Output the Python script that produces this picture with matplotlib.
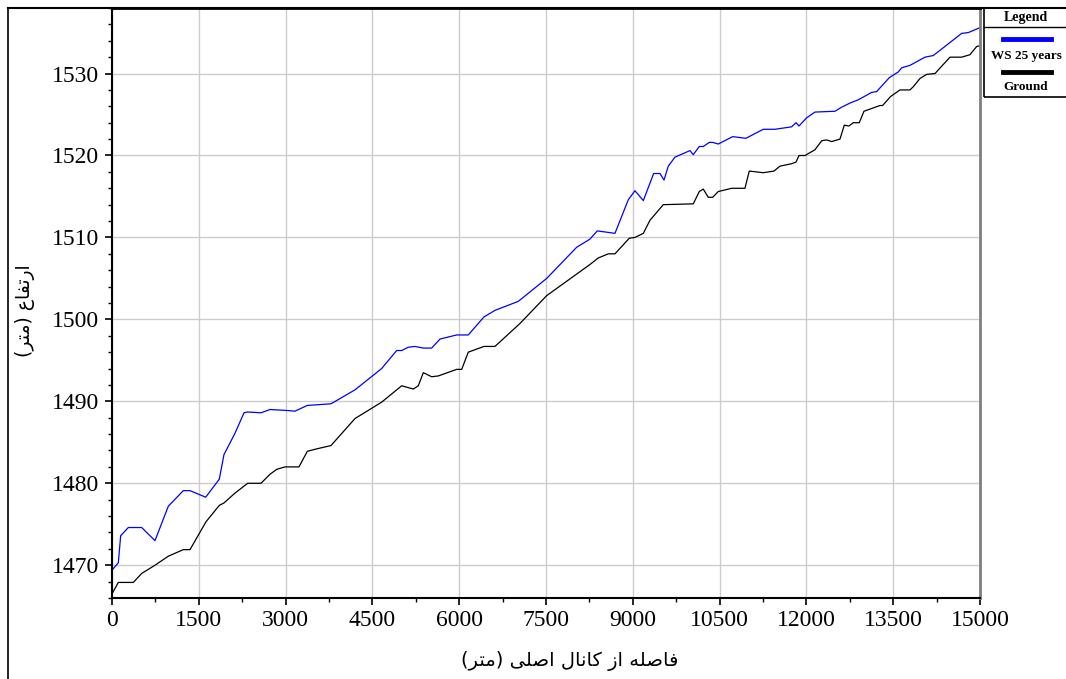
import matplotlib
matplotlib.use("Agg")
import matplotlib.pyplot as plt
from matplotlib.lines import Line2D
from matplotlib.patches import Rectangle
from matplotlib.ticker import MultipleLocator

# water surface profile (25 year flood) and ground profile
ws_x = [0, 109, 150, 282, 513, 743, 973, 1232, 1348, 1619, 1854, 1935, 2125, 2281,
        2338, 2575, 2730, 2990, 3162, 3375, 3784, 4199, 4660, 4919, 5006, 5120,
        5236, 5380, 5524, 5668, 5956, 6157, 6428, 6618, 7021, 7512, 8030, 8260,
        8386, 8692, 8922, 9037, 9182, 9360, 9470, 9539, 9613, 9729, 9988, 10045,
        10149, 10218, 10322, 10380, 10477, 10726, 10955, 11255, 11457, 11745,
        11820, 11872, 12004, 12148, 12494, 12610, 12753, 12897, 13128, 13214,
        13433, 13588, 13646, 13790, 14049, 14193, 14683, 14797, 15000]
ws_y = [1469.4, 1470.3, 1473.6, 1474.6, 1474.6, 1473.0, 1477.2, 1479.1, 1479.1,
        1478.3, 1480.5, 1483.5, 1486.1, 1488.6, 1488.7, 1488.6, 1489.0, 1488.9,
        1488.8, 1489.5, 1489.7, 1491.4, 1494.0, 1496.2, 1496.2, 1496.6, 1496.7,
        1496.5, 1496.5, 1497.6, 1498.1, 1498.1, 1500.3, 1501.1, 1502.2, 1505.0,
        1508.8, 1509.8, 1510.8, 1510.5, 1514.6, 1515.7, 1514.5, 1517.8, 1517.8,
        1517.0, 1518.7, 1519.8, 1520.6, 1520.1, 1521.1, 1521.1, 1521.6, 1521.6,
        1521.4, 1522.3, 1522.1, 1523.2, 1523.2, 1523.5, 1524.0, 1523.6, 1524.6,
        1525.3, 1525.4, 1525.9, 1526.4, 1526.8, 1527.7, 1527.8, 1529.5, 1530.2,
        1530.7, 1531.0, 1532.0, 1532.2, 1534.9, 1535.0, 1535.6]

ground_x = [0, 109, 368, 513, 743, 973, 1232, 1348, 1624, 1854, 1935, 2125, 2345,
            2575, 2730, 2846, 2990, 3231, 3375, 3537, 3784, 4199, 4660, 5006, 5207,
            5293, 5380, 5524, 5639, 5956, 6043, 6157, 6428, 6618, 7050, 7512, 8260,
            8404, 8577, 8692, 8939, 9037, 9182, 9297, 9527, 10045, 10149, 10218,
            10304, 10380, 10477, 10708, 10938, 11013, 11255, 11440, 11543, 11745,
            11820, 11872, 11976, 12148, 12264, 12350, 12437, 12580, 12655, 12736,
            12810, 12914, 12995, 13271, 13317, 13455, 13617, 13790, 13848, 13963,
            14078, 14222, 14481, 14683, 14826, 14942, 15000]
ground_y = [1466.5, 1467.9, 1467.9, 1469.0, 1470.0, 1471.1, 1471.9, 1471.9, 1475.3,
            1477.3, 1477.6, 1478.8, 1480.0, 1480.0, 1481.1, 1481.7, 1482.0, 1482.0,
            1483.9, 1484.2, 1484.6, 1487.9, 1489.9, 1491.9, 1491.5, 1491.9, 1493.5,
            1493.0, 1493.1, 1493.9, 1493.9, 1496.0, 1496.7, 1496.7, 1499.5, 1502.9,
            1506.7, 1507.5, 1508.0, 1508.0, 1509.9, 1510.0, 1510.5, 1512.1, 1514.0,
            1514.1, 1515.6, 1515.9, 1514.9, 1514.9, 1515.6, 1516.0, 1516.0, 1518.1,
            1517.9, 1518.1, 1518.7, 1519.0, 1519.2, 1520.0, 1520.0, 1520.7, 1521.8,
            1521.9, 1521.7, 1522.0, 1523.7, 1523.6, 1524.0, 1524.0, 1525.4, 1526.1,
            1526.1, 1527.2, 1528.0, 1528.0, 1528.4, 1529.4, 1529.9, 1530.0, 1532.0,
            1532.0, 1532.3, 1533.3, 1533.4]

series_names = ["WS 25 years", "Ground"]
xlabel_fa = "فاصله از کانال اصلی (متر)"
ylabel_fa = "ارتفاع (متر)"

# matplotlib has no arabic shaping, so pick the presentation forms by hand
# (isolated, final, initial, medial)
FORMS = {
    "ا": ("\ufe8d", "\ufe8e"), "ر": ("\ufead", "\ufeae"), "ز": ("\ufeaf", "\ufeb0"),
    "ت": ("\ufe95", "\ufe96", "\ufe97", "\ufe98"),
    "ف": ("\ufed1", "\ufed2", "\ufed3", "\ufed4"),
    "ع": ("\ufec9", "\ufeca", "\ufecb", "\ufecc"),
    "م": ("\ufee1", "\ufee2", "\ufee3", "\ufee4"),
    "ص": ("\ufeb9", "\ufeba", "\ufebb", "\ufebc"),
    "ل": ("\ufedd", "\ufede", "\ufedf", "\ufee0"),
    "ه": ("\ufee9", "\ufeea", "\ufeeb", "\ufeec"),
    "ک": ("\ufb8e", "\ufb8f", "\ufb90", "\ufb91"),
    "ن": ("\ufee5", "\ufee6", "\ufee7", "\ufee8"),
    "ی": ("\ufbfc", "\ufbfd", "\ufbfe", "\ufbff"),
}


def shape_rtl(s):
    out = []
    for i, c in enumerate(s):
        if c not in FORMS:
            out.append(c)
            continue
        prev = s[i - 1] if i > 0 else ""
        nxt = s[i + 1] if i + 1 < len(s) else ""
        join_prev = prev in FORMS and len(FORMS[prev]) == 4
        join_next = len(FORMS[c]) == 4 and nxt in FORMS
        f = FORMS[c]
        if join_prev and join_next:
            out.append(f[3])
        elif join_prev:
            out.append(f[1])
        elif join_next:
            out.append(f[2])
        else:
            out.append(f[0])
    vis = "".join(reversed(out))
    return vis.translate(str.maketrans("()", ")("))


W, H = 1066, 679
fig = plt.figure(figsize=(W / 100, H / 100), dpi=100)
ax = fig.add_axes([112 / W, 1 - 598 / H, (980 - 112) / W, (598 - 8) / H])

ax.plot(ws_x, ws_y, color="#0000ff", lw=0.9)
ax.plot(ground_x, ground_y, color="black", lw=0.9)

ax.set_xlim(0, 15000)
ax.set_ylim(1466, 1538)
ax.xaxis.set_major_locator(MultipleLocator(1500))
ax.xaxis.set_minor_locator(MultipleLocator(750))
ax.yaxis.set_major_locator(MultipleLocator(10))
ax.yaxis.set_minor_locator(MultipleLocator(2))
ax.grid(True, which="major", color="#cccccc", lw=1)
ax.tick_params(which="major", direction="out", length=5, width=1.2, pad=4)
ax.tick_params(which="minor", direction="out", length=3, width=1)
for lab in ax.get_xticklabels() + ax.get_yticklabels():
    lab.set_fontfamily("Liberation Serif")
    lab.set_fontsize(17)

ax.spines["top"].set_linewidth(2)
ax.spines["right"].set_color("#7f7f7f")
ax.spines["right"].set_linewidth(2)
ax.spines["left"].set_linewidth(1.5)
ax.spines["bottom"].set_linewidth(1.5)

# axis titles (persian)
fig.text(570 / W, 1 - 661 / H, shape_rtl(xlabel_fa), family=["DejaVu Sans"],
         fontsize=14, ha="center", va="center")
fig.text(25 / W, 1 - 311 / H, shape_rtl(ylabel_fa), family=["DejaVu Sans"],
         fontsize=13.5, ha="center", va="center", rotation=90)

# outer frame lines
fig.add_artist(Line2D([8 / W, 8 / W], [0, 1 - 8 / H], color="black", lw=1.2,
                      transform=fig.transFigure))
fig.add_artist(Line2D([8 / W, 1], [1 - 8 / H, 1 - 8 / H], color="black", lw=1.5,
                      transform=fig.transFigure))

# legend box drawn by hand, top right
fig.add_artist(Rectangle((984 / W, 1 - 97 / H), (W + 5 - 984) / W, 89 / H,
                         fill=False, ec="black", lw=1.2, transform=fig.transFigure))
fig.add_artist(Line2D([984 / W, 1], [1 - 27 / H, 1 - 27 / H], color="black", lw=1,
                      transform=fig.transFigure))
fig.text(1026 / W, 1 - 17 / H, "Legend", family="Liberation Serif",
         weight="bold", fontsize=10, ha="center", va="center")
legend_colors = ["#0000ff", "black"]
legend_line_y = [39, 72]
legend_text_y = [56, 87]
for name, col, ly, ty in zip(series_names, legend_colors, legend_line_y, legend_text_y):
    fig.add_artist(Line2D([1003 / W, 1051 / W], [1 - ly / H, 1 - ly / H], color=col,
                          lw=3.5, transform=fig.transFigure))
    fig.text(1026 / W, 1 - ty / H, name, family="Liberation Serif",
             weight="bold", fontsize=9.5, ha="center", va="center")

fig.savefig("out.png", dpi=100)
